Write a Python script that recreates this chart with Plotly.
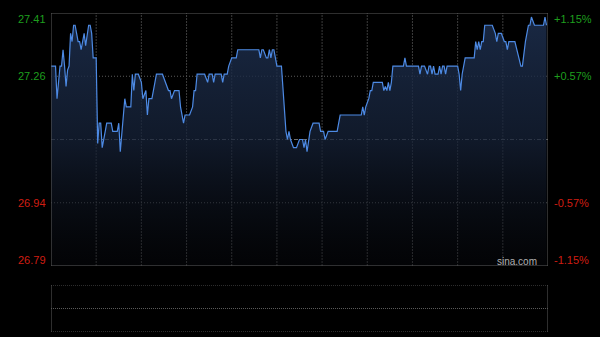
import plotly.graph_objects as go

# ---- data (intraday, minute index from open) ----
minutes = [0, 3, 4, 6, 7, 8, 9, 10, 11, 12, 13, 14, 15, 16, 17, 18, 19, 20, 21, 22, 23, 25, 26, 27, 28, 30,
           31, 32, 33, 34, 36, 37, 40, 41, 44, 45, 46, 48, 49, 50, 53, 54, 55, 56, 58, 60, 61, 63, 64, 65, 67,
           69, 70, 74, 76, 78, 79, 80, 82, 85, 86, 88, 89, 92, 94, 95, 96, 97, 102, 104, 105, 107, 108, 109,
           113, 114, 115, 117, 118, 120, 123, 124, 138, 139, 140, 141, 143, 144, 145, 146, 147, 148, 150, 153,
           156, 157, 158, 159, 161, 163, 165, 167, 168, 169, 170, 171, 172, 174, 178, 179, 181, 182, 184, 190,
           192, 206, 207, 208, 209, 211, 212, 213, 214, 220, 221, 222, 223, 224, 225, 226, 227, 234, 235, 236,
           244, 245, 246, 248, 250, 251, 252, 253, 254, 255, 257, 258, 259, 260, 261, 262, 263, 270, 271, 272,
           273, 275, 281, 282, 283, 284, 285, 286, 287, 288, 293, 295, 296, 297, 299, 301, 302, 303, 304, 308,
           311, 312, 313, 315, 317, 318, 319, 321, 327, 328, 329]
prices = [27.28, 27.28, 27.20, 27.28, 27.28, 27.32, 27.28, 27.23, 27.27, 27.28, 27.36, 27.34, 27.38, 27.38,
          27.36, 27.34, 27.34, 27.32, 27.34, 27.36, 27.33, 27.38, 27.38, 27.36, 27.30, 27.30,
          27.09, 27.14, 27.14, 27.08, 27.12, 27.14, 27.14, 27.12, 27.12, 27.14, 27.07, 27.15, 27.20, 27.18,
          27.18, 27.26, 27.22, 27.26, 27.26, 27.24, 27.20, 27.22, 27.16, 27.20, 27.20,
          27.24, 27.26, 27.26, 27.24, 27.22, 27.22, 27.20, 27.22, 27.22, 27.18, 27.14, 27.16, 27.16, 27.18,
          27.22, 27.22, 27.26, 27.26, 27.24, 27.26, 27.26, 27.24, 27.26,
          27.26, 27.24, 27.26, 27.26, 27.28, 27.30, 27.30, 27.32, 27.32, 27.30, 27.32, 27.32, 27.30, 27.30,
          27.32, 27.30, 27.32, 27.32, 27.28, 27.28,
          27.12, 27.10, 27.12, 27.10, 27.08, 27.08, 27.10, 27.10, 27.08, 27.10, 27.07, 27.10, 27.12, 27.14,
          27.14, 27.12, 27.12, 27.10, 27.12, 27.12,
          27.16, 27.16, 27.18, 27.16, 27.18, 27.20, 27.22, 27.22, 27.24, 27.24, 27.22, 27.23, 27.22, 27.24,
          27.22, 27.24, 27.28, 27.28, 27.30, 27.28,
          27.28, 27.26, 27.28, 27.28, 27.26, 27.28, 27.28, 27.26, 27.28, 27.26, 27.26, 27.28, 27.26, 27.28,
          27.28, 27.26, 27.28, 27.28, 27.26, 27.22,
          27.26, 27.30, 27.30, 27.34, 27.32, 27.34, 27.32, 27.34, 27.34, 27.38, 27.38, 27.36, 27.34, 27.36,
          27.36, 27.34, 27.34, 27.32, 27.34, 27.34,
          27.30, 27.28, 27.28, 27.34, 27.38, 27.38, 27.40, 27.38, 27.38, 27.40, 27.38]

prev_close = 27.10
price_low, price_high = 26.79, 27.41
session_minutes = 330
grid_step_minutes = 30
left_labels = ["27.41", "27.26", "26.94", "26.79"]
right_labels = ["+1.15%", "+0.57%", "-0.57%", "-1.15%"]

GREEN = "#1e9e1e"
RED = "#d01e12"
FONT = "Arial, Liberation Sans, sans-serif"

fig = go.Figure()
fig.add_trace(go.Scatter(
    x=minutes, y=prices, mode="lines",
    line=dict(color="#4d8ae4", width=1.2),
    fill="tozeroy",
    fillgradient=dict(type="vertical",
                      colorscale=[[0, "rgba(8,10,16,0.35)"], [0.5, "rgba(22,34,56,0.75)"], [1, "rgba(30,48,80,0.85)"]],
                      start=price_low, stop=price_high),
    hoverinfo="skip", xaxis="x", yaxis="y"))

span = price_high - price_low
quarter_levels = [price_low + span * f for f in (0.25, 0.75)]
mid_level = price_low + span * 0.5

shapes = []
# vertical grid
for m in range(grid_step_minutes, session_minutes, grid_step_minutes):
    shapes.append(dict(type="line", xref="x", yref="y", x0=m, x1=m, y0=price_low, y1=price_high,
                       line=dict(color="#3d3d3d", width=1, dash="2px,1px"), layer="below"))
for lv in quarter_levels:
    shapes.append(dict(type="line", xref="x", yref="y", x0=0, x1=session_minutes, y0=lv, y1=lv,
                       line=dict(color="#5a5a5a", width=1, dash="1px,2px"), layer="below"))
shapes.append(dict(type="line", xref="x", yref="y", x0=0, x1=session_minutes, y0=mid_level, y1=mid_level,
                   line=dict(color="#6e6e6e", width=1, dash="4px,2px,1px,2px"), layer="below"))
# main border
shapes.append(dict(type="rect", xref="x", yref="y", x0=0, x1=session_minutes, y0=price_low, y1=price_high,
                   line=dict(color="#5c5c5c", width=1), layer="above"))
# volume panel
shapes.append(dict(type="line", xref="x2", yref="y2", x0=0, x1=0, y0=0, y1=1,
                   line=dict(color="#5c5c5c", width=1)))
shapes.append(dict(type="line", xref="x2", yref="y2", x0=session_minutes, x1=session_minutes, y0=0, y1=1,
                   line=dict(color="#5c5c5c", width=1)))
for lv in (0, 0.5, 1):
    shapes.append(dict(type="line", xref="x2", yref="y2", x0=0, x1=session_minutes, y0=lv, y1=lv,
                       line=dict(color="#5a5a5a", width=1, dash="1px,1px")))

annotations = []
label_levels = [price_high, price_low + span * 0.75, price_low + span * 0.25, price_low]
shifts = [-6, 0, 0, 6]
for i, lv in enumerate(label_levels):
    col = GREEN if i < 2 else RED
    annotations.append(dict(xref="paper", yref="y", x=0, y=lv, xanchor="right", yanchor="middle",
                            xshift=-3, yshift=shifts[i], text=left_labels[i], showarrow=False,
                            font=dict(family=FONT, size=11, color=col)))
    annotations.append(dict(xref="paper", yref="y", x=1, y=lv, xanchor="left", yanchor="middle",
                            xshift=4, yshift=shifts[i], text=right_labels[i], showarrow=False,
                            font=dict(family=FONT, size=11, color=col)))
annotations.append(dict(xref="paper", yref="y", x=1, y=price_low, xanchor="right", yanchor="middle",
                        xshift=-9, yshift=5, text="sina.com", showarrow=False,
                        font=dict(family=FONT, size=10, color="#b0b0b0")))

hidden = dict(showgrid=False, zeroline=False, showticklabels=False, showline=False, ticks="", fixedrange=True)
fig.update_layout(
    width=600, height=337,
    margin=dict(l=51, r=52, t=13, b=5),
    paper_bgcolor="#000000", plot_bgcolor="#000000",
    showlegend=False,
    xaxis=dict(domain=[0, 1], range=[0, session_minutes], anchor="y", **hidden),
    yaxis=dict(domain=[0.2069, 1], range=[price_low, price_high], anchor="x", **hidden),
    xaxis2=dict(domain=[0, 1], range=[0, session_minutes], anchor="y2", **hidden),
    yaxis2=dict(domain=[0, 0.1473], range=[0, 1], anchor="x2", **hidden),
    shapes=shapes, annotations=annotations,
)
fig.write_html("out.html")
